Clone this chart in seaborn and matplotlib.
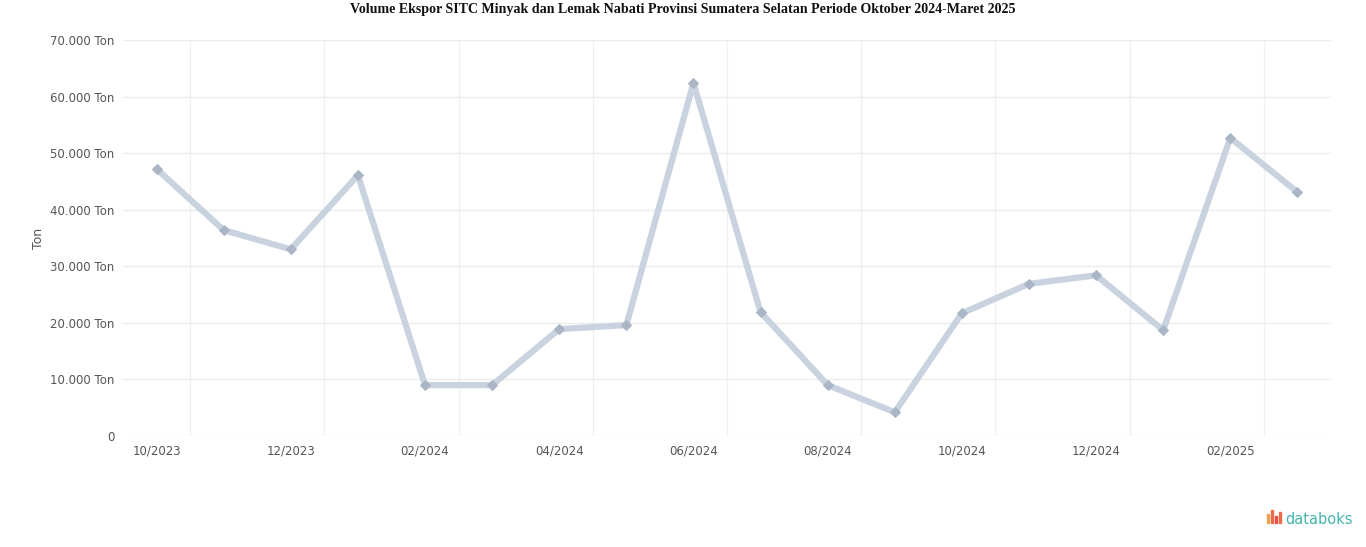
import matplotlib
matplotlib.use("Agg")
import matplotlib.pyplot as plt
import matplotlib.transforms as mtransforms
from matplotlib.patches import Rectangle
import seaborn as sns
import pandas as pd

months = ["10/2023", "11/2023", "12/2023", "01/2024", "02/2024", "03/2024",
          "04/2024", "05/2024", "06/2024", "07/2024", "08/2024", "09/2024",
          "10/2024", "11/2024", "12/2024", "01/2025", "02/2025", "03/2025"]
volume = [47200, 36400, 33000, 46100, 9000, 9000, 18900, 19600, 62400,
          21900, 9000, 4200, 21700, 26900, 28400, 18700, 52700, 43100]
y_ticks = [0, 10000, 20000, 30000, 40000, 50000, 60000, 70000]

title = ("Volume Ekspor SITC Minyak dan Lemak Nabati Provinsi Sumatera Selatan "
         "Periode Oktober 2024-Maret 2025")

df = pd.DataFrame({"idx": range(len(months)), "bulan": months, "volume": volume})

sns.set_theme(style="white")
plt.rcParams["font.family"] = ["DejaVu Sans"]

fig = plt.figure(figsize=(13.66, 5.47), dpi=100)
W, H = 1366, 547
left, right, top, bottom = 123, 1331, 40, 436
ax = fig.add_axes([left / W, 1 - bottom / H, (right - left) / W, (bottom - top) / H])

sns.lineplot(data=df, x="idx", y="volume", ax=ax, color="#c9d3e0", linewidth=4.5,
             marker="D", markersize=5, markerfacecolor="#aab5c6",
             markeredgecolor="#aab5c6", zorder=3)

ax.set_xlim(-0.5, len(months) - 0.5)
ax.set_ylim(0, 70000)

# horizontal grid
ax.set_yticks(y_ticks)
ylabels = ["0"] + [f"{v:,}".replace(",", ".") + " Ton" for v in y_ticks[1:]]
ax.set_yticklabels(ylabels, fontsize=8.5, color="#555555")
ax.yaxis.grid(True, color="#ececec", linewidth=1)
# vertical grid between month pairs
for g in [i + 0.5 for i in range(0, len(months) - 1, 2)]:
    ax.axvline(g, color="#f0f0f0", linewidth=1, zorder=0)

xt = list(range(0, len(months), 2))
ax.set_xticks(xt)
ax.set_xticklabels([months[i] for i in xt], fontsize=8.5, color="#555555")
offset = mtransforms.ScaledTranslation(-20 / 100, 0, fig.dpi_scale_trans)
for lab in ax.get_xticklabels():
    lab.set_transform(lab.get_transform() + offset)

ax.tick_params(axis="both", length=0, pad=6)
ax.set_xlabel("")
ax.set_ylabel("Ton", fontsize=9, color="#555555", labelpad=4)
for s in ax.spines.values():
    s.set_visible(False)

fig.text(0.5, 1 - 9 / H, title, ha="center", va="center", fontsize=10.1,
         fontweight="bold", family=["Liberation Serif", "DejaVu Serif"], color="#111111")

# databoks logo
bars = [(1267, 514, 9, "#f0a050"), (1271, 510, 13, "#ee6a4a"), (1275, 516, 7, "#e8504a"),
        (1279, 512, 11, "#ee6a4a")]
for x, y, h, c in bars:
    fig.patches.append(Rectangle((x / W, 1 - (y + h) / H), 2.2 / W, h / H,
                                 transform=fig.transFigure, color=c))
fig.text(1285 / W, 1 - 519 / H, "databoks", ha="left", va="center", fontsize=10.5,
         color="#45b3ad", family=["DejaVu Sans"])

fig.savefig("out.png", dpi=100)
